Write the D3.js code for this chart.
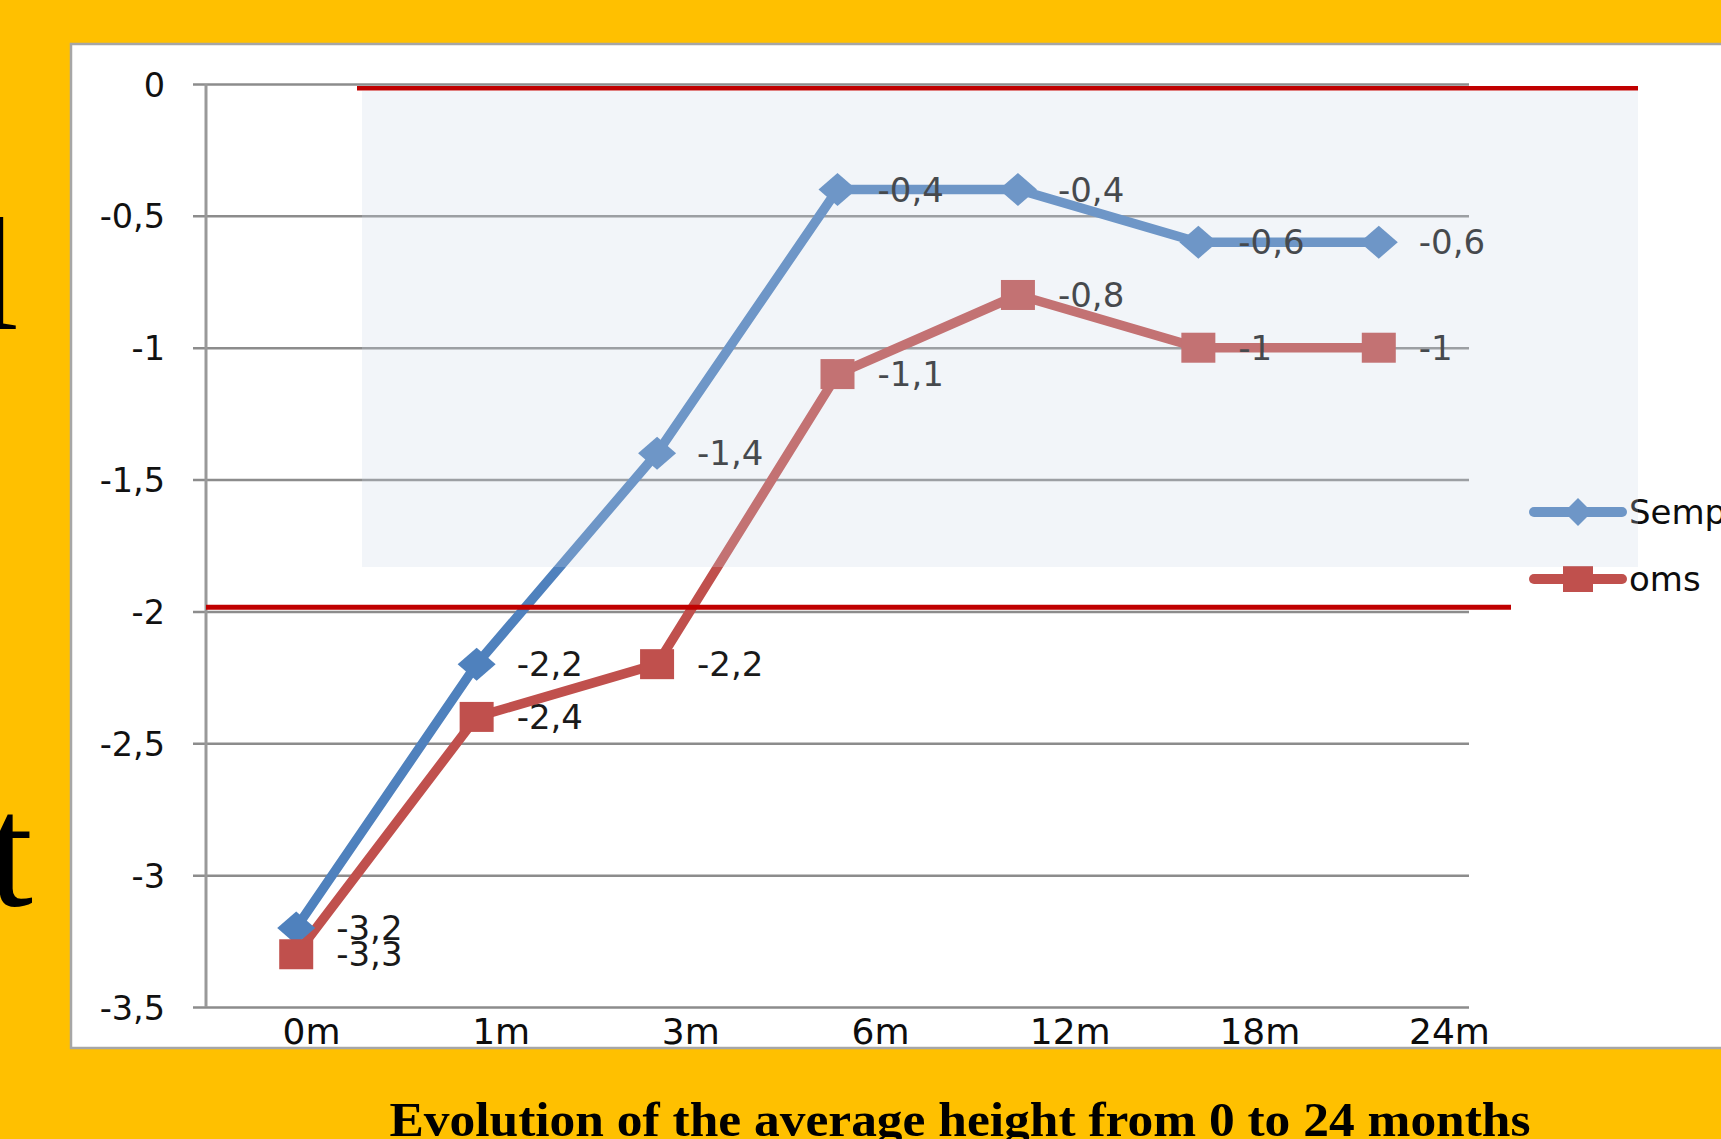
<!DOCTYPE html>
<html>
<head>
<meta charset="utf-8">
<script src="https://cdn.jsdelivr.net/npm/d3@7"></script>
<style>
  html, body { margin: 0; padding: 0; background: #FFC000; overflow: hidden; }
  svg { display: block; }
</style>
</head>
<body>
<svg id="chart" width="1721" height="1139"></svg>
<script>
// Age checkpoints and mean height z-scores for the two series
const categories = ["0m", "1m", "3m", "6m", "12m", "18m", "24m"];
const sempValues = [-3.2, -2.2, -1.4, -0.4, -0.4, -0.6, -0.6];
const omsValues  = [-3.3, -2.4, -2.2, -1.1, -0.8, -1, -1];
const seriesNames = ["Semp", "oms"];
const yTickValues = [0, -0.5, -1, -1.5, -2, -2.5, -3, -3.5];
// Reference limits (upper and lower bands)
const refLevels = [-0.016, -1.984];
const titleText = "Evolution of the average height from 0 to 24 months";

const W = 1721, H = 1139;
const svg = d3.select("#chart");
const fmt = v => String(v).replace(".", ",");
const FONT = "'DejaVu Sans', Verdana, sans-serif";

// Slide background
svg.append("rect").attr("width", W).attr("height", H).attr("fill", "#FFC000");

// Trailing letters of the slide text behind the chart
svg.append("text").attr("x", 19).attr("y", 329).attr("text-anchor", "end")
  .attr("font-family", "'Liberation Serif', 'Times New Roman', serif")
  .attr("font-size", 160).attr("fill", "#000").text("l");
svg.append("text").attr("x", 33).attr("y", 905).attr("text-anchor", "end")
  .attr("font-family", "'Liberation Serif', 'Times New Roman', serif")
  .attr("font-size", 160).attr("fill", "#000").text("t");

// Chart panel
svg.append("rect").attr("x", 71).attr("y", 44).attr("width", W - 71 + 20).attr("height", 1048 - 44)
  .attr("fill", "#fff").attr("stroke", "#a6a6a6").attr("stroke-width", 2.5);

// Scales
const plotLeft = 206, plotRight = 1469;
const y = d3.scaleLinear().domain([0, -3.5]).range([84, 1007]);
const x = d3.scalePoint().domain(categories).range([plotLeft, plotRight]).padding(0.5);
const xLabel = d3.scalePoint().domain(categories).range([311, 1449]);

// Gridlines + y tick labels
const gridStart = 193;
const yAxis = svg.append("g").attr("transform", `translate(${gridStart},0)`)
  .call(d3.axisLeft(y).tickValues(yTickValues).tickFormat(fmt)
    .tickSize(-(plotRight - gridStart)).tickPadding(28));
yAxis.select(".domain").remove();
yAxis.selectAll(".tick line").attr("stroke", "#8c8c8c").attr("stroke-width", 2.5);
yAxis.selectAll(".tick text").attr("font-family", FONT).attr("font-size", 33.5)
  .attr("fill", "#111").attr("dy", "0.36em");

// Vertical axis line
svg.append("line").attr("x1", plotLeft).attr("x2", plotLeft)
  .attr("y1", y(0)).attr("y2", y(-3.5)).attr("stroke", "#999").attr("stroke-width", 3);

// Category labels
const xAxis = svg.append("g").attr("transform", `translate(0,${y(-3.5)})`)
  .call(d3.axisBottom(xLabel).tickSize(0));
xAxis.select(".domain").remove();
xAxis.selectAll(".tick text").attr("font-family", FONT).attr("font-size", 36)
  .attr("fill", "#0d0d0d").attr("y", 37).attr("dy", 0);

// Series
const series = [
  { name: seriesNames[0], values: sempValues, color: "#4f81bd", marker: "diamond" },
  { name: seriesNames[1], values: omsValues,  color: "#c0504d", marker: "square" }
];

function drawMarker(g, type, cx, cy, color, w, h) {
  if (type === "diamond") {
    g.append("path")
      .attr("d", `M${cx},${cy - h / 2}L${cx + w / 2},${cy}L${cx},${cy + h / 2}L${cx - w / 2},${cy}Z`)
      .attr("fill", color);
  } else {
    g.append("rect").attr("x", cx - w / 2).attr("y", cy - h / 2)
      .attr("width", w).attr("height", h).attr("fill", color);
  }
}

const line = d3.line().x((d, i) => x(categories[i])).y(d => y(d));
const seriesG = svg.append("g");
series.forEach(s => {
  seriesG.append("path").datum(s.values).attr("d", line)
    .attr("fill", "none").attr("stroke", s.color).attr("stroke-width", 9.5)
    .attr("stroke-linejoin", "round");
});
series.forEach(s => {
  s.values.forEach((v, i) => {
    drawMarker(seriesG, s.marker, x(categories[i]), y(v), s.color,
      s.marker === "diamond" ? 38 : 34, s.marker === "diamond" ? 33 : 30);
  });
});
series.forEach(s => {
  seriesG.selectAll(null).data(s.values).enter().append("text")
    .attr("x", (d, i) => x(categories[i]) + 40)
    .attr("y", d => y(d)).attr("dy", "0.36em")
    .attr("font-family", FONT).attr("font-size", 34).attr("fill", "#1a1a1a")
    .text(d => fmt(d));
});

// Legend
const legend = svg.append("g");
const legendRows = [{ s: series[0], y: 512, w: 28, h: 28 }, { s: series[1], y: 579, w: 30, h: 26 }];
legendRows.forEach(r => {
  legend.append("line").attr("x1", 1534).attr("x2", 1622).attr("y1", r.y).attr("y2", r.y)
    .attr("stroke", r.s.color).attr("stroke-width", 10).attr("stroke-linecap", "round");
  drawMarker(legend, r.s.marker, 1578, r.y, r.s.color, r.w, r.h);
  legend.append("text").attr("x", 1629).attr("y", r.y).attr("dy", "0.36em")
    .attr("font-family", FONT).attr("font-size", 34).attr("fill", "#0d0d0d").text(r.s.name);
});

// Translucent band over the upper region
svg.append("rect").attr("x", 362).attr("y", 91).attr("width", 1638 - 362).attr("height", 567 - 91)
  .attr("fill", "rgb(205,215,232)").attr("fill-opacity", 0.25);

// Reference limit lines
svg.append("line").attr("x1", 357).attr("x2", 1638)
  .attr("y1", y(refLevels[0])).attr("y2", y(refLevels[0]))
  .attr("stroke", "#c00000").attr("stroke-width", 4.5);
svg.append("line").attr("x1", plotLeft).attr("x2", 1511)
  .attr("y1", y(refLevels[1])).attr("y2", y(refLevels[1]))
  .attr("stroke", "#c00000").attr("stroke-width", 5);

// Caption
svg.append("text").attr("x", 960).attr("y", 1136).attr("text-anchor", "middle")
  .attr("font-family", "'Liberation Serif', 'Times New Roman', serif")
  .attr("font-weight", "bold").attr("font-size", 48).attr("fill", "#000")
  .attr("textLength", 1141).attr("lengthAdjust", "spacingAndGlyphs")
  .text(titleText);
</script>
</body>
</html>
